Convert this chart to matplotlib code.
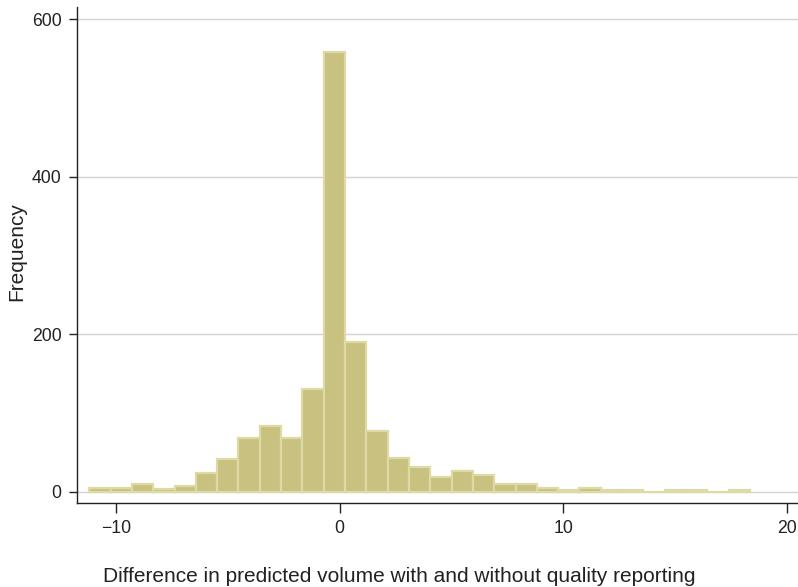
import numpy as np
import matplotlib
matplotlib.use("Agg")
import matplotlib.pyplot as plt

# histogram of the difference in predicted volume (31 bins)
bin_start = -11.19
bin_width = 0.953
counts = [5, 5, 10, 4, 8, 24, 42, 69, 84, 69, 131, 559, 190, 78, 43, 32,
          19, 27, 21, 10, 10, 5, 3, 5, 3, 3, 0, 2, 2, 0, 2]
xticks = [-10, 0, 10, 20]
yticks = [0, 200, 400, 600]

plt.rcParams['font.family'] = ['Liberation Sans', 'DejaVu Sans']

edges = bin_start + bin_width * np.arange(len(counts) + 1)

fig = plt.figure(figsize=(7.98, 5.87), dpi=100)
ax = fig.add_axes([0.0965, 0.1431, 0.9035, 0.8445])

ax.hist(edges[:-1], bins=edges, weights=counts, color='#C9C17F',
        edgecolor='#DEDAA6', linewidth=1.6, zorder=3)

ax.set_xlim(-11.74, 20.5)
ax.set_ylim(-14, 615.5)
ax.set_xticks(xticks)
ax.set_yticks(yticks)
ax.set_xticklabels([str(t).replace('-', '\u2212') for t in xticks])
ax.yaxis.grid(True, color='#D4D4D4', linewidth=1.0, zorder=0)

for s in ['top', 'right']:
    ax.spines[s].set_visible(False)
for s in ['left', 'bottom']:
    ax.spines[s].set_color('#222222')
    ax.spines[s].set_linewidth(1.0)

ax.tick_params(axis='y', length=6, width=1.0, color='#222222',
               labelsize=12.7, labelcolor='#222222', pad=5.2)
ax.tick_params(axis='x', length=7.3, width=1.0, color='#222222',
               labelsize=12.7, labelcolor='#222222', pad=5)

# axis titles placed relative to the whole figure
fig.text(16.5 / 798, 1 - 251.7 / 587, 'Frequency', rotation=90,
         ha='center', va='center', fontsize=15, color='#222222')
fig.text(0.5, 1 - 582.3 / 587,
         'Difference in predicted volume with and without quality reporting',
         ha='center', va='baseline', fontsize=15, color='#222222')

fig.savefig('out.png', dpi=100)
